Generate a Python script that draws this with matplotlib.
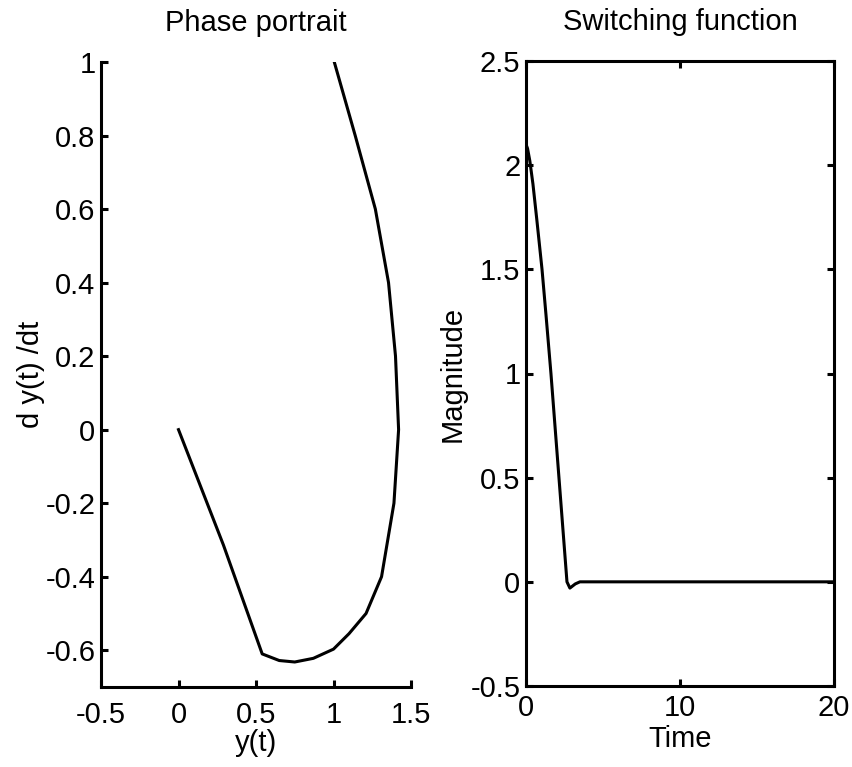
import matplotlib
matplotlib.use("Agg")
import matplotlib.pyplot as plt

plt.rcParams['font.family'] = ['Liberation Sans', 'DejaVu Sans']

# Phase portrait data
phase_y = [0.0, 0.29, 0.54, 0.65, 0.75, 0.87, 1.0, 1.1, 1.21, 1.31, 1.39, 1.42, 1.40, 1.355, 1.27, 1.14, 1.005]
phase_dy = [0.0, -0.314, -0.61, -0.628, -0.632, -0.622, -0.597, -0.555, -0.5, -0.4, -0.2, 0.0, 0.2, 0.4, 0.6, 0.8, 1.0]

# Switching function data
sw_t = [0.0, 0.1, 0.25, 0.45, 0.7, 1.04, 1.3, 1.62, 2.14, 2.66, 2.85, 3.2, 3.5, 4.0, 20.0]
sw_s = [2.1, 2.08, 2.02, 1.91, 1.74, 1.5, 1.28, 1.0, 0.5, 0.0, -0.03, -0.01, 0.0, 0.0, 0.0]

left_xticks = [-0.5, 0, 0.5, 1, 1.5]
left_xticklabels = ['-0.5', '0', '0.5', '1', '1.5']
left_yticks = [-0.6, -0.4, -0.2, 0, 0.2, 0.4, 0.6, 0.8, 1]
left_yticklabels = ['-0.6', '-0.4', '-0.2', '0', '0.2', '0.4', '0.6', '0.8', '1']
right_xticks = [0, 10, 20]
right_xticklabels = ['0', '10', '20']
right_yticks = [-0.5, 0, 0.5, 1, 1.5, 2, 2.5]
right_yticklabels = ['-0.5', '0', '0.5', '1', '1.5', '2', '2.5']

W, H = 852, 767
fig = plt.figure(figsize=(W / 100, H / 100), dpi=100)

FS = 21
LW = 2.2

ax1 = fig.add_axes([101 / W, (H - 687) / H, 310 / W, 625 / H])
ax2 = fig.add_axes([526 / W, (H - 686) / H, 308 / W, 625 / H])

ax1.plot(phase_y, phase_dy, color='black', lw=LW, solid_joinstyle='round')
ax1.set_xlim(-0.5, 1.5)
ax1.set_ylim(-0.7, 1.0)
ax1.set_xticks(left_xticks)
ax1.set_xticklabels(left_xticklabels)
ax1.set_yticks(left_yticks)
ax1.set_yticklabels(left_yticklabels)
ax1.spines['top'].set_visible(False)
ax1.spines['right'].set_visible(False)
ax1.set_title('Phase portrait', fontsize=FS, pad=22)
ax1.set_xlabel('y(t)', fontsize=FS, labelpad=0)
ax1.set_ylabel('d y(t) /dt', fontsize=FS, labelpad=0)

ax2.plot(sw_t, sw_s, color='black', lw=LW, solid_joinstyle='round')
ax2.set_xlim(0, 20)
ax2.set_ylim(-0.5, 2.5)
ax2.set_xticks(right_xticks)
ax2.set_xticklabels(right_xticklabels)
ax2.set_yticks(right_yticks)
ax2.set_yticklabels(right_yticklabels)
ax2.set_title('Switching function', fontsize=FS, pad=22)
ax2.set_xlabel('Time', fontsize=FS, labelpad=2)
ax2.set_ylabel('Magnitude', fontsize=FS, labelpad=3)

for ax in (ax1, ax2):
    for sp in ax.spines.values():
        sp.set_linewidth(LW)
    ax.tick_params(direction='in', length=5, width=LW, labelsize=FS)
    ax.tick_params(axis='y', pad=4)
ax1.tick_params(axis='x', pad=10)
ax2.tick_params(axis='x', pad=6)
ax2.tick_params(top=True, right=True)

fig.savefig('out.png', dpi=100)
